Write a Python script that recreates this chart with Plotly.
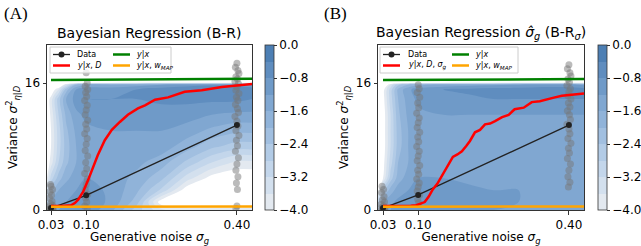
import plotly.graph_objects as go

W, H = 641, 246

# ---------------- data ----------------
SIGMA_G = [0.03, 0.10, 0.40]
TICK_LABELS_X = ["0.03", "0.10", "0.40"]
TICK_VALS_Y = [0, 16]
CBAR_TICKS = [-4.0, -3.2, -2.4, -1.6, -0.8, 0.0]

DATA_VAR_A = [0.25, 1.85, 10.7]
DATA_VAR_B = [0.25, 1.9, 10.7]

RED_A_X = [0.03, 0.05, 0.07, 0.078, 0.084, 0.094, 0.104, 0.113, 0.123, 0.137, 0.151,
           0.167, 0.183, 0.203, 0.217, 0.237, 0.263, 0.296, 0.330, 0.370, 0.40, 0.43]
RED_A_Y = [0.5, 0.5, 0.6, 0.9, 1.3, 2.3, 3.8, 5.3, 6.9, 8.8, 10.1,
           11.1, 12.0, 12.8, 13.2, 13.9, 14.2, 14.9, 15.1, 15.5, 15.7, 15.9]

RED_B_X = [0.03, 0.07, 0.085, 0.096, 0.105, 0.113, 0.121, 0.129, 0.138, 0.147, 0.157,
           0.169, 0.178, 0.187, 0.196, 0.203, 0.213, 0.223, 0.233, 0.243, 0.253, 0.267,
           0.28, 0.292, 0.31, 0.326, 0.342, 0.358, 0.372, 0.386, 0.40, 0.43]
RED_B_Y = [0.5, 0.5, 0.55, 0.6, 0.8, 1.0, 1.7, 2.6, 3.3, 4.3, 5.4,
           6.7, 7.0, 7.4, 8.1, 8.7, 9.8, 10.1, 10.8, 10.9, 11.2, 11.7,
           12.0, 12.7, 12.9, 13.6, 13.7, 14.0, 14.2, 14.4, 14.5, 14.7]

GREEN_X = [0.03, 0.43]
GREEN_A_Y = [16.4, 16.55]
GREEN_B_Y = [16.4, 16.5]
ORANGE_X = [0.03, 0.43]
ORANGE_Y = [0.4, 0.45]

# sampled variances (grey dots), per generative noise level, with small x jitter
A03_Y = [0.0, 0.05, 0.1, 0.15, 0.2, 0.3, 0.4, 0.6, 0.8, 1.1, 1.5, 1.9, 2.3, 2.6, 3.0, 3.2, 0.0, 0.1, 0.05, 0.25]
A03_DX = [-0.003, 0.002, 0.0, 0.004, -0.002, 0.001, -0.004, 0.003, -0.001, 0.002,
          -0.003, 0.001, -0.002, 0.003, 0.0, -0.001, 0.004, -0.004, 0.002, 0.0]
A10_Y = [17.3, 16.0, 15.6, 15.2, 14.8, 14.3, 13.8, 13.2, 12.6, 12.0, 11.3, 10.8, 10.2, 9.6, 9.0,
         8.3, 7.5, 6.8, 6.0, 5.2, 4.6, 3.9, 3.2, 2.6, 2.0, 1.5, 1.0, 0.5, 0.2]
A10_DX = [0.0, 0.002, -0.002, 0.003, -0.001, 0.001, -0.003, 0.002, 0.0, -0.002, 0.003, -0.001,
          0.001, -0.003, 0.002, 0.0, -0.002, 0.003, -0.001, 0.001, -0.003, 0.002, 0.0, -0.002,
          0.003, -0.001, 0.001, -0.003, 0.002]
A40_Y = [18.5, 18.0, 17.6, 17.2, 16.8, 16.5, 16.2, 15.9, 15.5, 15.1, 14.7, 14.2, 13.8, 13.3, 12.8,
         12.3, 11.8, 11.2, 10.6, 10.0, 9.4, 8.8, 8.1, 7.4, 6.6, 5.8, 5.0, 4.2, 3.4, 2.6, 0.5, 0.2]
A40_DX = [0.0, -0.003, 0.002, 0.004, -0.002, 0.001, -0.004, 0.003, 0.0, -0.002, 0.004, -0.001,
          0.002, -0.003, 0.001, 0.003, -0.004, 0.0, 0.002, -0.002, 0.004, -0.001, 0.001, -0.003,
          0.003, 0.0, -0.002, 0.002, -0.001, 0.001, 0.0, -0.002]

B03_Y = [0.0, 0.05, 0.1, 0.2, 0.3, 0.5, 0.7, 1.0, 1.3, 1.7, 2.2, 2.6, 3.0, 0.0, 0.15]
B03_DX = [-0.003, 0.002, 0.0, 0.004, -0.002, 0.001, -0.004, 0.003, -0.001, 0.002,
          -0.003, 0.001, -0.002, 0.003, 0.0]
B10_Y = [15.8, 15.3, 14.8, 14.2, 13.5, 12.9, 12.2, 11.6, 11.0, 10.4, 9.8, 9.2, 8.6, 8.0, 7.4,
         6.8, 6.2, 5.6, 5.0, 4.5, 3.9, 3.4, 2.9, 2.4, 1.9, 1.4, 0.9]
B10_DX = [0.0, 0.002, -0.002, 0.003, -0.001, 0.001, -0.003, 0.002, 0.0, -0.002, 0.003, -0.001,
          0.001, -0.003, 0.002, 0.0, -0.002, 0.003, -0.001, 0.001, -0.003, 0.002, 0.0, -0.002,
          0.003, -0.001, 0.001]
B40_Y = [18.3, 17.8, 17.3, 16.9, 16.5, 16.1, 15.7, 15.3, 14.9, 14.4, 14.0, 13.5, 13.0, 12.5, 12.0,
         11.4, 10.8, 10.2, 9.6, 9.0, 8.4, 7.8, 7.2, 6.5, 5.8, 5.0, 4.2, 3.5, 2.9]
B40_DX = [0.0, -0.003, 0.002, 0.004, -0.002, 0.001, -0.004, 0.003, 0.0, -0.002, 0.004, -0.001,
          0.002, -0.003, 0.001, 0.003, -0.004, 0.0, 0.002, -0.002, 0.004, -0.001, 0.001, -0.003,
          0.003, 0.0, -0.002, 0.002, -0.001]

# log10 density grid behind the points
GRID_X = [0.02, 0.03, 0.045, 0.06, 0.08, 0.10, 0.15, 0.20, 0.25, 0.30, 0.35, 0.40, 0.43]
GRID_Y = [0, 1, 2.5, 4, 6, 8, 10, 12, 14, 15.2, 15.8, 16.2, 20.8]
LOGDENS_A = [
    [-2.6, -1.4, -1.2, -1.1, -1.0, -0.9, -1.5, -2.6, -3.5, -3.6, -3.6, -3.6, -3.6],
    [-3.0, -1.6, -1.3, -1.2, -1.0, -0.9, -1.3, -2.2, -4.3, -5.0, -5.0, -5.0, -5.0],
    [-3.6, -2.2, -1.6, -1.4, -1.2, -1.0, -1.3, -1.9, -2.9, -4.3, -4.6, -4.6, -4.6],
    [-4.2, -3.0, -2.2, -1.7, -1.4, -1.2, -1.4, -1.7, -2.3, -3.4, -4.2, -4.4, -4.4],
    [-4.5, -3.8, -2.8, -2.1, -1.6, -1.4, -1.4, -1.5, -1.8, -2.5, -3.2, -3.7, -3.7],
    [-4.5, -4.0, -3.0, -2.2, -1.6, -1.4, -1.3, -1.3, -1.4, -1.8, -2.3, -2.6, -2.6],
    [-4.5, -4.0, -3.0, -2.1, -1.5, -1.3, -1.2, -1.2, -1.2, -1.4, -1.7, -1.9, -1.9],
    [-4.5, -3.9, -2.8, -1.9, -1.3, -1.1, -1.0, -1.0, -1.0, -1.0, -1.2, -1.3, -1.3],
    [-4.5, -3.8, -2.6, -1.6, -1.0, -0.8, -0.8, -0.8, -0.7, -0.7, -0.7, -0.7, -0.8],
    [-5.0, -4.5, -3.6, -2.2, -1.2, -0.9, -0.9, -0.8, -0.6, -0.5, -0.4, -0.4, -0.5],
    [-6.0, -6.0, -5.0, -3.5, -2.0, -1.6, -1.6, -1.4, -1.2, -1.0, -0.9, -1.0, -1.2],
    [-6.0, -6.0, -6.0, -6.0, -6.0, -6.0, -6.0, -6.0, -6.0, -6.0, -6.0, -6.0, -6.0],
    [-6.0, -6.0, -6.0, -6.0, -6.0, -6.0, -6.0, -6.0, -6.0, -6.0, -6.0, -6.0, -6.0],
]
LOGDENS_B = [
    [-2.6, -1.4, -1.2, -1.1, -1.0, -0.9, -1.0, -1.1, -1.2, -1.3, -1.4, -1.4, -1.5],
    [-3.0, -1.6, -1.3, -1.1, -1.0, -0.9, -1.0, -1.0, -1.1, -1.2, -1.3, -1.3, -1.4],
    [-4.2, -2.6, -1.8, -1.4, -1.2, -1.0, -1.0, -1.1, -1.2, -1.2, -1.3, -1.3, -1.4],
    [-4.5, -4.0, -2.6, -1.8, -1.4, -1.2, -1.2, -1.3, -1.4, -1.4, -1.4, -1.3, -1.4],
    [-4.5, -4.2, -3.0, -2.0, -1.6, -1.4, -1.3, -1.4, -1.5, -1.5, -1.5, -1.4, -1.5],
    [-4.5, -4.3, -3.2, -2.2, -1.6, -1.4, -1.3, -1.3, -1.4, -1.4, -1.4, -1.4, -1.4],
    [-4.5, -4.3, -3.2, -2.2, -1.6, -1.4, -1.3, -1.3, -1.3, -1.3, -1.3, -1.3, -1.3],
    [-4.5, -4.3, -3.2, -2.1, -1.5, -1.3, -1.2, -1.2, -1.2, -1.2, -1.2, -1.2, -1.2],
    [-4.5, -4.2, -3.0, -2.0, -1.4, -1.1, -0.9, -0.9, -0.8, -0.8, -0.8, -0.8, -0.8],
    [-4.5, -4.2, -3.0, -1.9, -1.3, -1.0, -0.8, -0.7, -0.6, -0.6, -0.5, -0.5, -0.6],
    [-6.0, -5.0, -3.5, -2.5, -2.0, -1.7, -1.5, -1.4, -1.3, -1.2, -1.1, -1.1, -1.3],
    [-6.0, -6.0, -6.0, -6.0, -6.0, -6.0, -6.0, -6.0, -6.0, -6.0, -6.0, -6.0, -6.0],
    [-6.0, -6.0, -6.0, -6.0, -6.0, -6.0, -6.0, -6.0, -6.0, -6.0, -6.0, -6.0, -6.0],
]

BAND_COLORS = ["#e3e9f0", "#d3e0ee", "#c3d6eb", "#b2cbe6", "#a1bfe0",
               "#90b3d9", "#80a7d1", "#6f9ac8", "#5f8dbf", "#4d7fb4"]

FONT = "DejaVu Sans"

# ---------------- geometry (pixels) ----------------
PANELS = {
    "A": dict(x0=47, x1=252, xr=[0.022, 0.43], cb=265, leg=(50, 171, 75, 113, 134), legb=(47, 73)),
    "B": dict(x0=378, x1=584, xr=[0.020, 0.43], cb=598, leg=(380, 518, 406, 452, 473), legb=(47, 73)),
}
Y_TOP, Y_BOT = 45, 210


def px(x):
    return x / W


def py(y):
    return 1 - y / H


# contour colorscale: lowest band (below -4) is white
n = len(BAND_COLORS) + 1
contour_cs = [[0, "#ffffff"]]
for j, c in enumerate(BAND_COLORS):
    contour_cs.append([(j + 1) / n, c])
contour_cs.append([1, BAND_COLORS[-1]])

# discrete colorbar scale
cbar_cs = []
for j, c in enumerate(BAND_COLORS):
    cbar_cs.append([j / len(BAND_COLORS), c])
    cbar_cs.append([(j + 1) / len(BAND_COLORS), c])

fig = go.Figure()

panel_data = {
    "A": dict(z=LOGDENS_A, data=DATA_VAR_A, rx=RED_A_X, ry=RED_A_Y, gy=GREEN_A_Y,
              pts=[(0.03, A03_Y, A03_DX), (0.10, A10_Y, A10_DX), (0.40, A40_Y, A40_DX)]),
    "B": dict(z=LOGDENS_B, data=DATA_VAR_B, rx=RED_B_X, ry=RED_B_Y, gy=GREEN_B_Y,
              pts=[(0.03, B03_Y, B03_DX), (0.10, B10_Y, B10_DX), (0.40, B40_Y, B40_DX)]),
}

for i, key in enumerate(["A", "B"]):
    xa = "x" if i == 0 else "x2"
    ya = "y" if i == 0 else "y2"
    d = panel_data[key]
    g = PANELS[key]
    fig.add_trace(go.Contour(
        x=GRID_X, y=GRID_Y, z=d["z"], xaxis=xa, yaxis=ya,
        autocontour=False, contours=dict(start=-4.0, end=0.0, size=0.4, coloring="fill"),
        colorscale=contour_cs, line=dict(width=0, smoothing=1.0), showscale=False,
        hoverinfo="skip"))
    px_all, py_all = [], []
    for xc, ys, dxs in d["pts"]:
        for yv, dx in zip(ys, dxs):
            px_all.append(xc + dx)
            py_all.append(yv)
    fig.add_trace(go.Scatter(x=px_all, y=py_all, mode="markers", xaxis=xa, yaxis=ya,
                             marker=dict(size=7, color="rgba(120,120,120,0.5)", line=dict(width=0)),
                             showlegend=False, hoverinfo="skip"))
    fig.add_trace(go.Scatter(x=SIGMA_G, y=d["data"], mode="lines+markers", xaxis=xa, yaxis=ya,
                             line=dict(color="#222222", width=1.3), marker=dict(size=6, color="#222222"),
                             showlegend=False, name="Data"))
    fig.add_trace(go.Scatter(x=d["rx"], y=d["ry"], mode="lines", xaxis=xa, yaxis=ya,
                             line=dict(color="#ff0000", width=2.5), showlegend=False))
    fig.add_trace(go.Scatter(x=GREEN_X, y=d["gy"], mode="lines", xaxis=xa, yaxis=ya,
                             line=dict(color="#008000", width=2.5), showlegend=False))
    fig.add_trace(go.Scatter(x=ORANGE_X, y=ORANGE_Y, mode="lines", xaxis=xa, yaxis=ya,
                             line=dict(color="#ffa500", width=2.5), showlegend=False))
    # colorbar carrier
    cbar = dict(x=px(g["cb"]), xanchor="left", xpad=0, ypad=0,
                y=py((Y_TOP + Y_BOT) / 2), yanchor="middle",
                len=Y_BOT - Y_TOP, lenmode="pixels", thickness=9,
                outlinewidth=0.8, outlinecolor="#333333",
                tickvals=CBAR_TICKS, tickformat=".1f",
                ticks="outside", ticklen=3, tickcolor="#333333",
                tickfont=dict(family=FONT, size=12, color="black"))
    fig.add_trace(go.Scatter(x=[None, None], y=[None, None], mode="markers", xaxis=xa, yaxis=ya,
                             showlegend=False, hoverinfo="skip",
                             marker=dict(color=[-4, 0], cmin=-4, cmax=0, colorscale=cbar_cs,
                                         showscale=True, colorbar=cbar)))

axis_common = dict(showline=True, linecolor="#333333", linewidth=1, mirror=True, ticks="outside",
                   ticklen=3.5, tickcolor="#333333", showgrid=False, zeroline=False,
                   tickfont=dict(family=FONT, size=12, color="black"), automargin=False)

layout = dict(width=W, height=H, margin=dict(l=0, r=0, t=0, b=0, autoexpand=False),
              paper_bgcolor="white", plot_bgcolor="white", showlegend=False,
              font=dict(family=FONT, color="black"))
for i, key in enumerate(["A", "B"]):
    g = PANELS[key]
    sfx = "" if i == 0 else "2"
    layout["xaxis" + sfx] = dict(axis_common, domain=[px(g["x0"]), px(g["x1"])], range=g["xr"],
                                 tickvals=SIGMA_G, ticktext=TICK_LABELS_X,
                                 anchor="y" + sfx,
                                 title=dict(text="Generative noise <i>σ</i><sub><i>g</i></sub>",
                                            font=dict(family=FONT, size=12), standoff=3))
    layout["yaxis" + sfx] = dict(axis_common, domain=[py(Y_BOT), py(Y_TOP)], range=[0, 20.8],
                                 tickvals=TICK_VALS_Y, anchor="x" + sfx,
                                 title=dict(text="Variance <i>σ</i><sup>2</sup><sub><i>η</i>|<i>D</i></sub>",
                                            font=dict(family=FONT, size=12), standoff=4))
fig.update_layout(**layout)

ann = []
shapes = []
titles = {"A": "Bayesian Regression (B-R)",
          "B": "Bayesian Regression <i>σ̂</i><sub><i>g</i></sub> (B-R<sub><i>σ</i></sub>)"}
labels2 = {"A": "<i>y</i>|<i>x</i>, <i>D</i>",
           "B": "<i>y</i>|<i>x</i>, <i>D</i>, <i>σ</i><sub><i>g</i></sub>"}
for key, lx in [("A", 2), ("B", 322)]:
    ann.append(dict(text="(" + key + ")", x=px(lx), y=py(13), xref="paper", yref="paper",
                    xanchor="left", yanchor="middle", showarrow=False,
                    font=dict(family="Liberation Serif", size=17, color="black")))
for key in ["A", "B"]:
    g = PANELS[key]
    ann.append(dict(text=titles[key], x=px((g["x0"] + g["x1"]) / 2), y=py(33), xref="paper", yref="paper",
                    xanchor="center", yanchor="middle", showarrow=False,
                    font=dict(family=FONT, size=14, color="black")))
    bx0, bx1, t1, h2, t2 = g["leg"]
    by0, by1 = g["legb"]
    shapes.append(dict(type="rect", xref="paper", yref="paper", x0=px(bx0), x1=px(bx1), y0=py(by1), y1=py(by0),
                       fillcolor="rgba(255,255,255,0.8)", line=dict(color="#cccccc", width=1), layer="above"))
    r1, r2 = 54.5, 65.5
    h1 = bx0 + 3
    items = [(h1, t1, r1, "#222222", 1.3, "Data"), (h1, t1, r2, "#ff0000", 2.5, labels2[key]),
             (h2, t2, r1, "#008000", 2.5, "<i>y</i>|<i>x</i>"),
             (h2, t2, r2, "#ffa500", 2.5, "<i>y</i>|<i>x</i>, <i>w</i><sub><i>MAP</i></sub>")]
    for hx, tx, ry, col, lw, txt in items:
        shapes.append(dict(type="line", xref="paper", yref="paper", x0=px(hx), x1=px(hx + 17),
                           y0=py(ry), y1=py(ry), line=dict(color=col, width=lw), layer="above"))
        ann.append(dict(text=txt, x=px(tx), y=py(ry), xref="paper", yref="paper", xanchor="left",
                        yanchor="middle", showarrow=False, font=dict(family=FONT, size=8, color="black")))
        if txt == "Data":
            cx = hx + 8.5
            shapes.append(dict(type="circle", xref="paper", yref="paper", x0=px(cx - 3), x1=px(cx + 3),
                               y0=py(ry + 3), y1=py(ry - 3), fillcolor="#222222",
                               line=dict(color="#222222", width=0), layer="above"))
fig.update_layout(annotations=ann, shapes=shapes)

fig.write_html("out.html", config={"displayModeBar": False},
               post_script="document.body.style.margin='0px';")
